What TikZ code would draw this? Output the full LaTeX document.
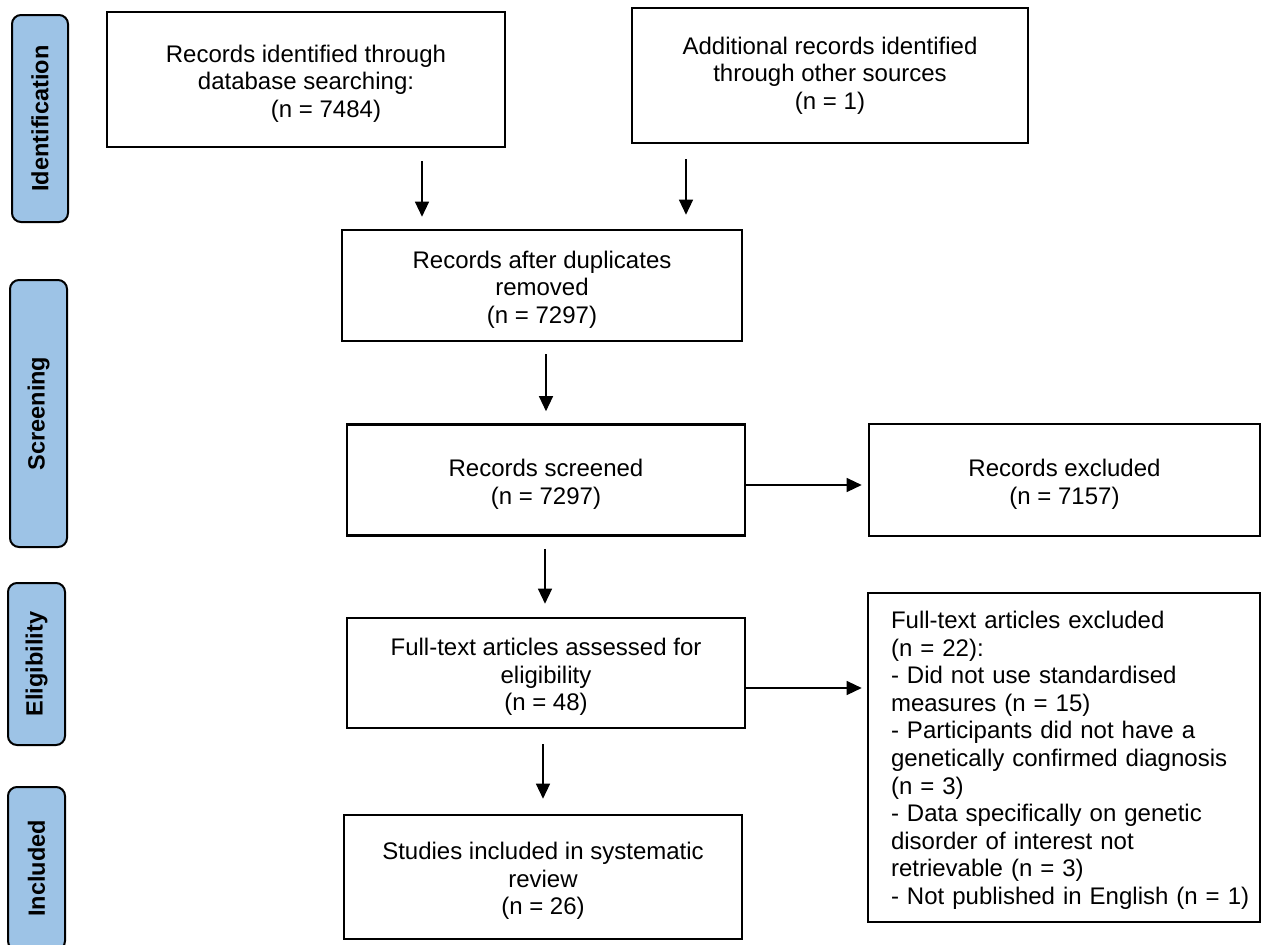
\documentclass[tikz,border=0pt]{standalone}
\usepackage{fontspec}
\setmainfont{Liberation Sans}
\usetikzlibrary{arrows.meta}
\definecolor{sidefill}{HTML}{9DC3E6}
\newcommand{\toppad}{\rule{0pt}{25.5pt}}
\begin{document}
\begin{tikzpicture}[x=1pt,y=-1pt,
  box/.style={draw, line width=2.6pt, inner sep=0pt, align=center, font=\fontsize{24}{27.6}\selectfont},
  side/.style={draw, line width=2pt, rounded corners=9pt, fill=sidefill, inner sep=0pt, rotate=90, font=\fontsize{23.5}{27}\selectfont\bfseries},
  arr/.style={line width=1.3pt, -{Triangle[length=15pt,width=14pt]}},
]
\useasboundingbox (0,0) rectangle (1264,945);

% side labels
\node[side, minimum width=207pt, minimum height=56pt] (s1) at (40,118.5) {Identification};
\node[side, minimum width=267pt, minimum height=57pt] (s2) at (38.5,413.5) {Screening};
\node[side, minimum width=162pt, minimum height=57pt] (s3) at (36.5,664) {Eligibility};
\begin{scope}
\clip (0,0) rectangle (1264,945);
\node[side, minimum width=163pt, minimum height=57pt] (s4) at (36.5,868.5) {Included};
\end{scope}

% boxes
\node[box, minimum width=398pt, minimum height=135pt] (b1) at (306,79.5) {\toppad Records identified through\\database searching:\\\hspace*{40pt}(n = 7484)};
\node[box, minimum width=396pt, minimum height=135pt] (b2) at (830,75.5) {Additional records identified\\through other sources\\(n = 1)};
\node[box, minimum width=400pt, minimum height=111pt] (b3) at (542,285.5) {\toppad Records after duplicates\\removed\\(n = 7297)};
\node[box, minimum width=398pt, minimum height=111pt] (b4) at (546,480) {\toppad Records screened\\(n = 7297)};
\node[box, minimum width=391pt, minimum height=112pt] (b5) at (1064.5,480) {\toppad Records excluded\\(n = 7157)};
\node[box, minimum width=398pt, minimum height=110pt] (b6) at (546,673) {\toppad Full-text articles assessed for\\eligibility\\(n = 48)};
\node[box, minimum height=329pt, text width=346pt, align=left, inner xsep=23pt] (b7) at (1064,757.5) {\rule{0pt}{23pt}Full-text articles excluded\\(n = 22):\\- Did not use standardised\\measures (n = 15)\\- Participants did not have a\\genetically confirmed diagnosis\\(n = 3)\\- Data specifically on genetic\\disorder of interest not\\retrievable (n = 3)\\\mbox{- Not published in English (n = 1)}};
\node[box, minimum width=398pt, minimum height=124pt] (b8) at (543,877) {\toppad Studies included in systematic\\review\\(n = 26)};

% connectors
\coordinate (x1) at (422,0);
\coordinate (x2) at (686,0);
\coordinate (x3) at (546,0);
\coordinate (x5) at (545,0);
\coordinate (x7) at (543,0);
\coordinate (y4) at (0,485);
\coordinate (y6) at (0,688);
\draw[arr, shorten <=13pt, shorten >=12pt] (b1.south -| x1) -- (b3.north -| x1);
\draw[arr, shorten <=15pt, shorten >=14pt] (b2.south -| x2) -- (b3.north -| x2);
\draw[arr, shorten <=12pt, shorten >=12pt] (b3.south -| x3) -- (b4.north -| x3);
\draw[arr, shorten >=6pt] (b4.east |- y4) -- (b5.west |- y4);
\draw[arr, shorten <=12pt, shorten >=13pt] (b4.south -| x5) -- (b6.north -| x5);
\draw[arr, shorten >=5pt] (b6.east |- y6) -- (b7.west |- y6);
\draw[arr, shorten <=15pt, shorten >=15pt] (b6.south -| x7) -- (b8.north -| x7);
\end{tikzpicture}
\end{document}
